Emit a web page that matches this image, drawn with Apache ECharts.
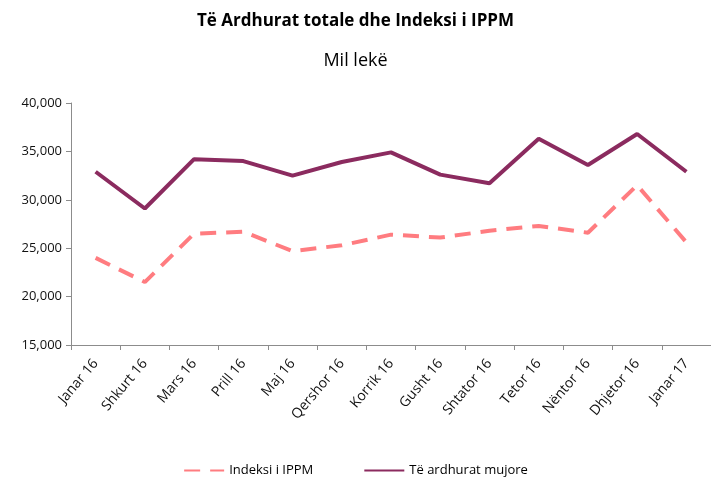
<!DOCTYPE html>
<html>
<head>
<meta charset="utf-8">
<script src="https://cdn.jsdelivr.net/npm/echarts@6/dist/echarts.min.js"></script>
<style>
  html, body { margin: 0; padding: 0; background: #fff; }
  #chart { width: 711px; height: 486px; }
</style>
</head>
<body>
<div id="chart"></div>
<script>
// muajt
const categories = ['Janar 16', 'Shkurt 16', 'Mars 16', 'Prill 16', 'Maj 16', 'Qershor 16', 'Korrik 16',
  'Gusht 16', 'Shtator 16', 'Tetor 16', 'Nëntor 16', 'Dhjetor 16', 'Janar 17'];
const indeksiIPPM = [24000, 21500, 26500, 26700, 24700, 25300, 26400, 26100, 26800, 27300, 26600, 31500, 25600];
const ardhuratMujore = [32900, 29100, 34200, 34000, 32500, 33900, 34900, 32600, 31700, 36300, 33600, 36800, 32900];
const yTicks = { min: 15000, max: 40000, interval: 5000 };

const font = '"Open Sans", "Noto Sans", sans-serif';
const chart = echarts.init(document.getElementById('chart'));

chart.setOption({
  animation: false,
  textStyle: { fontFamily: font },
  title: [
    {
      text: 'Të Ardhurat totale dhe Indeksi i IPPM',
      left: 'center',
      top: 8,
      textStyle: { fontSize: 17, fontWeight: 'bold', color: '#000', fontFamily: font }
    },
    {
      text: 'Mil lekë',
      left: 'center',
      top: 47,
      textStyle: { fontSize: 18, fontWeight: 'normal', color: '#000', fontFamily: font }
    }
  ],
  legend: {
    bottom: 4,
    left: 'center',
    itemWidth: 40,
    itemHeight: 8,
    itemGap: 50,
    itemStyle: { opacity: 0 },
    textStyle: { fontSize: 13, color: '#000' },
    data: ['Indeksi i IPPM', 'Të ardhurat mujore']
  },
  grid: { left: 71, right: 0, top: 103, bottom: 141 },
  xAxis: {
    type: 'category',
    data: categories,
    axisLine: { lineStyle: { color: '#8c8c8c', width: 1 } },
    axisTick: { show: true, length: 5, lineStyle: { color: '#8c8c8c' } },
    axisLabel: { rotate: 50, color: '#111', fontSize: 14, margin: 16, interval: 0 }
  },
  yAxis: {
    type: 'value',
    min: yTicks.min,
    max: yTicks.max,
    interval: yTicks.interval,
    axisLine: { show: true, lineStyle: { color: '#8c8c8c' } },
    axisTick: { show: true, length: 5, lineStyle: { color: '#8c8c8c' } },
    splitLine: { show: false },
    axisLabel: {
      color: '#111',
      fontSize: 13,
      margin: 9,
      formatter: v => v.toLocaleString('en-US')
    }
  },
  series: [
    {
      name: 'Indeksi i IPPM',
      type: 'line',
      data: indeksiIPPM,
      symbol: 'none',
      lineStyle: { color: '#ff7c80', width: 4, type: [16, 10] },
      itemStyle: { color: '#ff7c80' }
    },
    {
      name: 'Të ardhurat mujore',
      type: 'line',
      data: ardhuratMujore,
      symbol: 'none',
      lineStyle: { color: '#8b2b5f', width: 4 },
      itemStyle: { color: '#8b2b5f' }
    }
  ]
});
</script>
</body>
</html>
